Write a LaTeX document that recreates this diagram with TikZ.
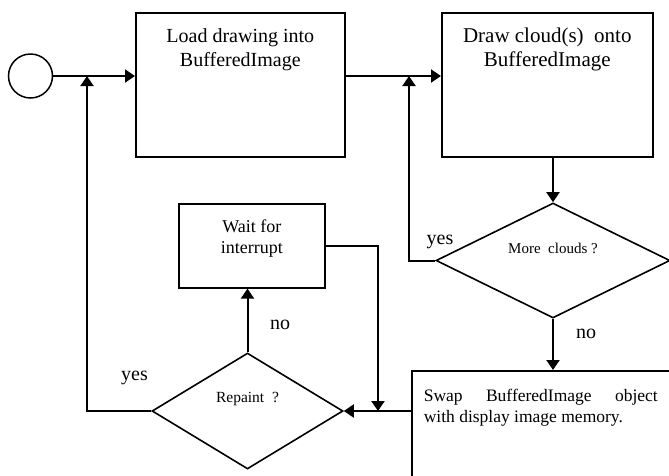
\documentclass[tikz,border=0pt]{standalone}
\usepackage{fontspec}
\setmainfont{Liberation Serif}
\usetikzlibrary{shapes.geometric,arrows.meta}
\tikzset{
  box/.style={draw, rectangle, line width=1.6pt, inner sep=0pt},
  dec/.style={draw, diamond, line width=1.6pt, inner sep=0pt},
  conn/.style={line width=2pt, -{Triangle[length=10pt,width=13pt]}},
  plain/.style={line width=2pt},
  lbl/.style={anchor=base, inner sep=0pt, font=\fontsize{20}{24}\selectfont},
}
\begin{document}
\begin{tikzpicture}[x=1pt,y=-1pt]
\useasboundingbox (0,0) rectangle (669,475);
\clip (0,0) rectangle (669,475);
% nodes
\node[draw, circle, minimum size=44pt, inner sep=0pt, line width=1.5pt] (start) at (30.5,76) {};
\node[box, anchor=north west] (load) at (135,12)
  {\parbox[c][144pt][t]{209pt}{\centering\fontsize{20}{24}\selectfont\rule{0pt}{30pt}Load drawing into\\BufferedImage}};
\node[box, anchor=north west] (cloud) at (441,12)
  {\parbox[c][144pt][t]{211pt}{\centering\fontsize{21}{24}\selectfont\rule{0pt}{30pt}Draw cloud(s)\ \ onto\\BufferedImage}};
\node[dec, minimum width=234pt, minimum height=115pt] (more) at (553,260.5)
  {\fontsize{15}{18}\selectfont\raisebox{7.5pt}[0pt][0pt]{More\ \ clouds ?}};
\node[box, anchor=north west] (swap) at (411,370)
  {\parbox[c][130pt][t]{270pt}{\fontsize{17.5}{21}\selectfont\rule{0pt}{31pt}\hspace*{12pt}\parbox[t]{234pt}{Swap\hfill BufferedImage\hfill object\\with display image memory.}}};
\node[dec, minimum width=191pt, minimum height=116pt] (repaint) at (247.5,411)
  {\fontsize{15.5}{18}\selectfont\raisebox{9pt}[0pt][0pt]{Repaint\ \ ?}};
\node[box, anchor=north west] (wait) at (178,203)
  {\parbox[c][84pt][t]{146pt}{\centering\fontsize{18}{21}\selectfont\rule{0pt}{29pt}Wait for\\interrupt}};
% junctions
\coordinate (j1) at (87,76);
\coordinate (j2) at (409,76);
\coordinate (j3) at (378,411);
% connectors
\draw[conn] (start.east) -- (start.east -| load.west);
\draw[conn] (start.east -| load.east) -- (start.east -| cloud.west);
\draw[conn] (more.north |- cloud.south) -- (more.north);
\draw[conn] (more.west) -| (j2);
\draw[conn] (more.south) -- (more.south |- swap.north);
\draw[conn] (repaint.east -| swap.west) -- (repaint.east);
\draw[conn] (wait.east) -| (j3);
\draw[conn] (repaint.north) -- (repaint.north |- wait.south);
\draw[conn] (repaint.west) -| (j1);
% labels
\node[lbl] (yes1) at (440,244) {yes};
\node[lbl] (no1) at (586,338) {no};
\node[lbl] (no2) at (280,329) {no};
\node[lbl] (yes2) at (134.5,380) {yes};
\end{tikzpicture}
\end{document}
